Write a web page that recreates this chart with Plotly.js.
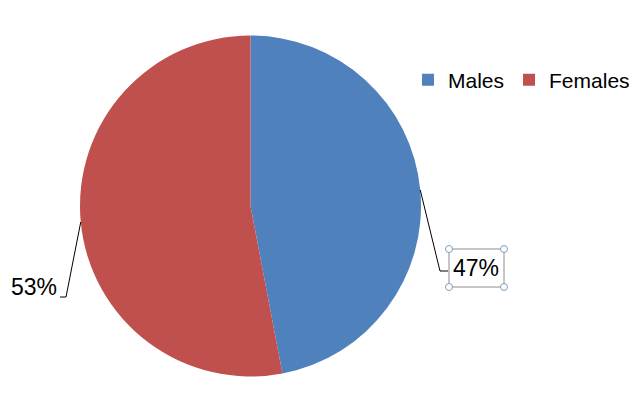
<!DOCTYPE html>
<html>
<head>
<meta charset="utf-8">
<script src="https://cdn.plot.ly/plotly-3.0.1.min.js"></script>
<style>html,body{margin:0;padding:0;background:#fff;}#chart{width:640px;height:397px;}</style>
</head>
<body>
<div id="chart"></div>
<script>
const categories = ["Males", "Females"];
const values = [47, 53];
const colors = ["#4F81BD", "#C0504D"];

const W = 640, H = 397;
const cx = 250.5, cy = 206, R = 170.5;
const px = x => x / W;
const py = y => 1 - y / H;

// leader line end points / label anchors (layout positions)
const labelPos = [
  {elbowX: 440, elbowY: 271, endX: 448, textX: 476, textY: 268, boxed: true},
  {elbowX: 66, elbowY: 297, endX: 60, textX: 34, textY: 287, boxed: false}
];

const total = values.reduce((a, b) => a + b, 0);
const shapes = [];
const annotations = [];
let cum = 0;
values.forEach((v, i) => {
  const mid = (cum + v / 2) / total * 2 * Math.PI; // clockwise from 12 o'clock
  cum += v;
  const sx = cx + R * Math.sin(mid);
  const sy = cy - R * Math.cos(mid);
  const L = labelPos[i];
  shapes.push({
    type: "path", xref: "paper", yref: "paper",
    path: `M${px(sx)},${py(sy)} L${px(L.elbowX)},${py(L.elbowY)} L${px(L.endX)},${py(L.elbowY)}`,
    line: {color: "#000", width: 1}
  });
  annotations.push({
    xref: "paper", yref: "paper", x: px(L.textX), y: py(L.textY),
    xanchor: "center", yanchor: "middle", showarrow: false,
    text: Math.round(v / total * 100) + "%",
    font: {family: "Liberation Sans, Arial, sans-serif", size: 23, color: "#000"}
  });
  if (L.boxed) {
    const x0 = 449, x1 = 504, y0 = 249, y1 = 287;
    shapes.push({type: "rect", xref: "paper", yref: "paper",
      x0: px(x0), x1: px(x1), y0: py(y1), y1: py(y0),
      line: {color: "#8c8c8c", width: 1}, fillcolor: "rgba(0,0,0,0)"});
    [[x0, y0], [x1, y0], [x0, y1], [x1, y1]].forEach(([hx, hy]) => {
      shapes.push({type: "circle", xref: "paper", yref: "paper",
        x0: px(hx - 3.5), x1: px(hx + 3.5), y0: py(hy + 3.5), y1: py(hy - 3.5),
        line: {color: "#7f9fc4", width: 1}, fillcolor: "#ffffff"});
    });
  }
});

const trace = {
  type: "pie",
  labels: categories,
  values: values,
  marker: {colors: colors, line: {width: 0}},
  sort: false,
  direction: "clockwise",
  rotation: 0,
  textinfo: "none",
  hoverinfo: "none",
  domain: {x: [px(cx - R), px(cx + R)], y: [py(cy + R), py(cy - R)]}
};

const layout = {
  width: W, height: H,
  margin: {l: 0, r: 0, t: 0, b: 0},
  paper_bgcolor: "#fff",
  showlegend: true,
  legend: {
    orientation: "h", x: px(408), y: py(80), xanchor: "left", yanchor: "middle",
    font: {family: "Liberation Sans, Arial, sans-serif", size: 21, color: "#000"},
    itemwidth: 30, tracegroupgap: 0, bgcolor: "rgba(0,0,0,0)", borderwidth: 0
  },
  shapes: shapes,
  annotations: annotations
};

Plotly.newPlot("chart", [trace], layout, {displayModeBar: false, staticPlot: true});
</script>
</body>
</html>
